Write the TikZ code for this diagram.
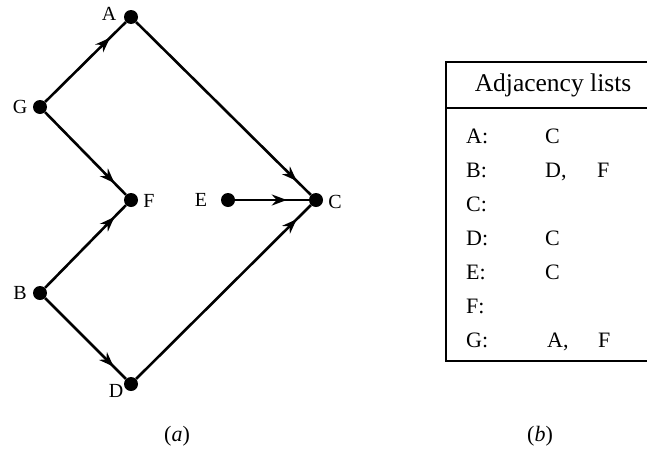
\documentclass[tikz,border=0pt]{standalone}
\usepackage{fontspec}
\setmainfont{Liberation Serif}
\usetikzlibrary{decorations.markings,arrows.meta}
\begin{document}
\begin{tikzpicture}[x=1pt,y=-1pt,
  vtx/.style={circle,fill=black,inner sep=0pt,minimum size=14pt},
  lbl/.style={font=\fontsize{20}{24}\selectfont,inner sep=0pt},
  arr/.style={line width=2.6pt, postaction={decorate},
    decoration={markings, mark=at position #1 with {\arrow{Stealth[length=15pt,width=11pt]}}}},
  tab/.style={font=\fontsize{22}{26}\selectfont,inner sep=0pt,anchor=west,text height=15pt,text depth=5pt},
  captext/.style={font=\fontsize{22}{26}\selectfont,inner sep=0pt},
  boxline/.style={line width=2.4pt}]
\useasboundingbox (0,0) rectangle (647,458);
% vertices
\node[vtx] (A) at (131,17) {};
\node[vtx] (G) at (40,107) {};
\node[vtx] (F) at (131,200) {};
\node[vtx] (E) at (228,200) {};
\node[vtx] (C) at (316,200) {};
\node[vtx] (B) at (40,293) {};
\node[vtx] (D) at (131,384) {};
% labels
\node[lbl] (lA) at (109,14) {A};
\node[lbl] (lG) at (20,107) {G};
\node[lbl] (lF) at (149,201) {F};
\node[lbl] (lE) at (201,200) {E};
\node[lbl] (lC) at (335,202) {C};
\node[lbl] (lB) at (20,293) {B};
\node[lbl] (lD) at (116,391) {D};
% edges
\draw[arr=-22pt] (G) -- (A);
\draw[arr=-16pt] (G) -- (F);
\draw[arr=-16pt] (B) -- (F);
\draw[arr=-17pt] (B) -- (D);
\draw[arr=-20pt] (A) -- (C);
\draw[arr=-20pt] (D) -- (C);
\draw[arr=-22pt] (E) -- (C);
% table
\coordinate (tl) at (446,62);
\coordinate (tr) at (647,62);
\coordinate (hl) at (446,108);
\coordinate (hr) at (647,108);
\coordinate (bl) at (446,361);
\coordinate (br) at (647,361);
\draw[boxline] (tr) -- (tl) -- (bl) -- (br);
\draw[boxline] (hl) -- (hr);
\node[font=\fontsize{25.5}{28}\selectfont,inner sep=0pt] (hdr) at (553,85) {Adjacency lists};
\node[tab] (rA) at (466,138) {A:};
\node[tab] (rA2) at (545,138) {C};
\node[tab] (rB) at (466,172) {B:};
\node[tab] (rB2) at (545,172) {D,};
\node[tab] (rB3) at (597,172) {F};
\node[tab] (rC) at (466,206) {C:};
\node[tab] (rD) at (466,240) {D:};
\node[tab] (rD2) at (545,240) {C};
\node[tab] (rE) at (466,274) {E:};
\node[tab] (rE2) at (545,274) {C};
\node[tab] (rF) at (466,308) {F:};
\node[tab] (rG) at (466,342) {G:};
\node[tab] (rG2) at (547,342) {A,};
\node[tab] (rG3) at (598,342) {F};
% captions
\node[captext] (ca) at (177,436) {(\textit{a})};
\node[captext] (cb) at (540,436) {(\textit{b})};
\end{tikzpicture}
\end{document}
